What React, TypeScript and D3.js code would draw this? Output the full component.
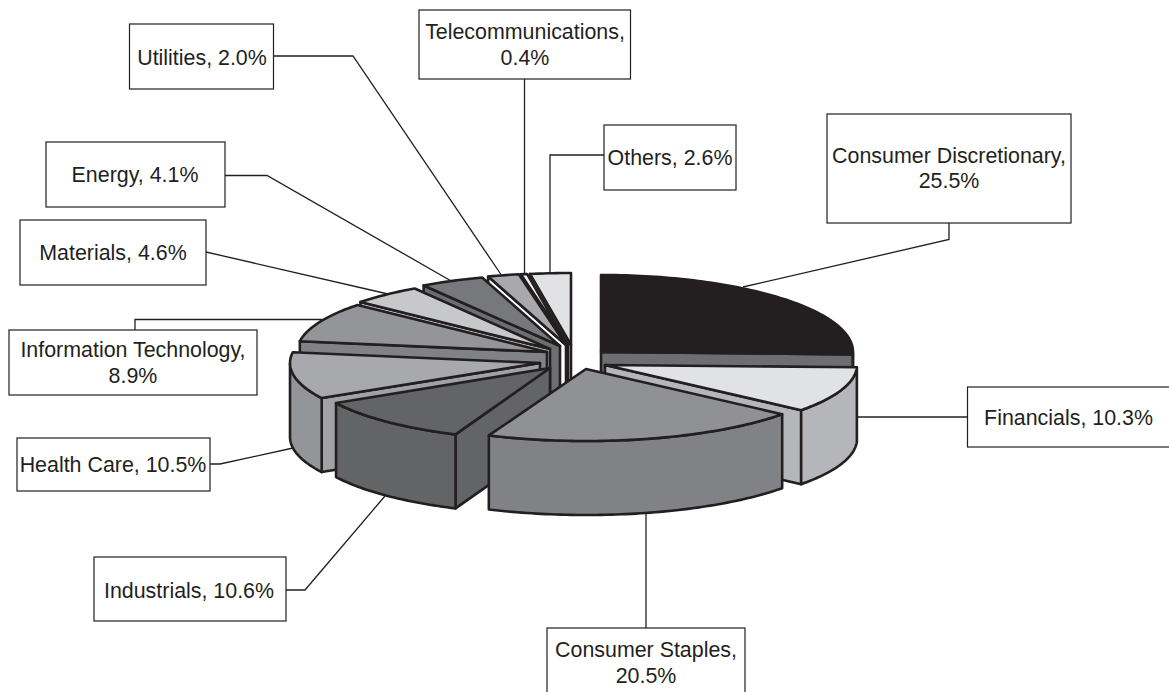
import React from "react";
import * as d3 from "d3";

const sectors = [
  "Consumer Discretionary",
  "Financials",
  "Consumer Staples",
  "Industrials",
  "Health Care",
  "Information Technology",
  "Materials",
  "Energy",
  "Utilities",
  "Telecommunications",
  "Others",
];
const shares = [25.5, 10.3, 20.5, 10.6, 10.5, 8.9, 4.6, 4.1, 2.0, 0.4, 2.6];

const topColors = ["#231f20", "#e1e2e4", "#8f9194", "#636466", "#a7a9ac", "#939598", "#c7c8ca", "#77787b", "#a7a9ac", "#f1f2f2", "#e1e2e4"];
const rimColors = ["#6d6e71", "#b5b6b9", "#808285", "#636466", "#939598", "#808285", "#bcbec0", "#6d6e71", "#a7a9ac", "#d1d3d4", "#d1d3d4"];
const cutColors = ["#6d6e71", "#b5b6b9", "#808285", "#636466", "#a0a2a5", "#808285", "#bcbec0", "#6d6e71", "#ffffff", "#d1d3d4", "#d1d3d4"];

// painter's order, back slices first
const drawOrder = [10, 9, 8, 7, 6, 0, 5, 1, 4, 3, 2];

const depth = 74;
// where each exploded slice has its point, and the size of its ellipse
const sliceLayout = [
  { x: 601, y: 352, rx: 252, ry: 77 },
  { x: 605, y: 365, rx: 252, ry: 72 },
  { x: 586, y: 369, rx: 252, ry: 72 },
  { x: 550, y: 368, rx: 245, ry: 72 },
  { x: 540, y: 363, rx: 250, ry: 72 },
  { x: 547, y: 352, rx: 250, ry: 72 },
  { x: 550, y: 349, rx: 250, ry: 72 },
  { x: 560, y: 346, rx: 252, ry: 72 },
  { x: 566, y: 345, rx: 252, ry: 72 },
  { x: 568, y: 345, rx: 252, ry: 72 },
  { x: 571, y: 345, rx: 252, ry: 72 },
];

// label boxes, text anchors and leader lines, same order as sectors
const labelLayout = [
  { box: [827, 114, 1071, 223], cx: 949, base: [163, 188], leader: [[949, 223], [949, 239.5], [743, 287]] },
  { box: [967.5, 387, 1190, 447], cx: 1068.5, base: [425], leader: [[855, 417], [967.5, 417]] },
  { box: [547, 628, 745, 710], cx: 646, base: [657, 683], leader: [[646, 628], [646, 514]] },
  { box: [94, 557, 286, 621], cx: 189, base: [598], leader: [[286, 590], [305, 590], [385, 496]] },
  { box: [17, 438, 210, 491], cx: 113, base: [472], leader: [[210, 464], [220, 464], [293, 448]] },
  { box: [9, 330, 257, 395], cx: 133, base: [357, 383], leader: [[135, 330], [135, 319.5], [322, 319.5]] },
  { box: [20, 220, 206, 285], cx: 113, base: [260], leader: [[206, 252], [388, 294]] },
  { box: [46, 142, 225, 207], cx: 135, base: [182], leader: [[225, 175.5], [267, 175.5], [453, 282]] },
  { box: [129.5, 24, 273.5, 89], cx: 202, base: [64.5], leader: [[273.5, 56], [353, 56], [502, 276]] },
  { box: [419, 10, 630.5, 79], cx: 525, base: [39, 65], leader: [[524.5, 79], [524.5, 276]] },
  { box: [604, 125, 736, 190], cx: 670, base: [165], leader: [[604, 155], [550, 155], [550, 273]] },
];

const twoLine = [true, false, true, false, false, true, false, false, false, true, false];

const ink = "#231f20";
const pieArcs = d3.pie<number>().sort(null).value((d) => d)(shares);
const pathOf = d3.line();

const App = () => {
  const slices = drawOrder.map((i) => {
    const { x, y, rx, ry } = sliceLayout[i];
    const a0 = pieArcs[i].startAngle;
    const a1 = pieArcs[i].endAngle;
    const at = (a: number, drop = 0): [number, number] => [x + rx * Math.sin(a), y - ry * Math.cos(a) + drop];
    const steps = Math.max(2, Math.ceil((a1 - a0) / 0.02));
    const sweep = d3.range(steps + 1).map((k) => a0 + ((a1 - a0) * k) / steps);

    const top = pathOf([[x, y], ...sweep.map((a) => at(a))]) + "Z";
    const cut = (a: number) => pathOf([[x, y], at(a), at(a, depth), [x, y + depth]]) + "Z";

    // a cut face shows only when it turns towards the viewer
    const cuts: string[] = [];
    if (Math.sin(a0) < -1e-6) cuts.push(cut(a0));
    if (Math.sin(a1) > 1e-6) cuts.push(cut(a1));

    // only the part of the rim that faces the viewer
    const front = sweep.filter((a) => Math.cos(a) <= 0);
    const rim = front.length > 1
      ? pathOf([...front.map((a) => at(a)), ...front.slice().reverse().map((a) => at(a, depth))]) + "Z"
      : null;
    return { i, top, cuts, rim };
  });

  return (
    <svg
      width={1169}
      height={692}
      style={{ position: "absolute", left: 0, top: 0, background: "#fff", display: "block" }}
      fontFamily="'Liberation Sans', Arial, sans-serif"
    >
      <g fill="none" stroke={ink} strokeWidth={1.3}>
        {labelLayout.map((l, i) => (
          <path key={i} d={pathOf(l.leader as [number, number][]) as string} />
        ))}
      </g>

      <g stroke={ink} strokeWidth={2.6} strokeLinejoin="round">
        {slices.map((s) => (
          <g key={s.i}>
            {s.cuts.map((d, k) => (
              <path key={k} d={d} fill={cutColors[s.i]} />
            ))}
            {s.rim && <path d={s.rim} fill={rimColors[s.i]} />}
            <path d={s.top} fill={topColors[s.i]} />
          </g>
        ))}
      </g>

      {labelLayout.map((l, i) => {
        const value = `${shares[i].toFixed(1)}%`;
        const lines = twoLine[i] ? [`${sectors[i]},`, value] : [`${sectors[i]}, ${value}`];
        return (
          <g key={i}>
            <rect
              x={l.box[0]}
              y={l.box[1]}
              width={l.box[2] - l.box[0]}
              height={l.box[3] - l.box[1]}
              fill="#fff"
              stroke={ink}
              strokeWidth={1.2}
            />
            {lines.map((t, k) => (
              <text key={k} x={l.cx} y={l.base[k]} textAnchor="middle" fontSize={21.4} fill={ink}>
                {t}
              </text>
            ))}
          </g>
        );
      })}
    </svg>
  );
};

export default App;
